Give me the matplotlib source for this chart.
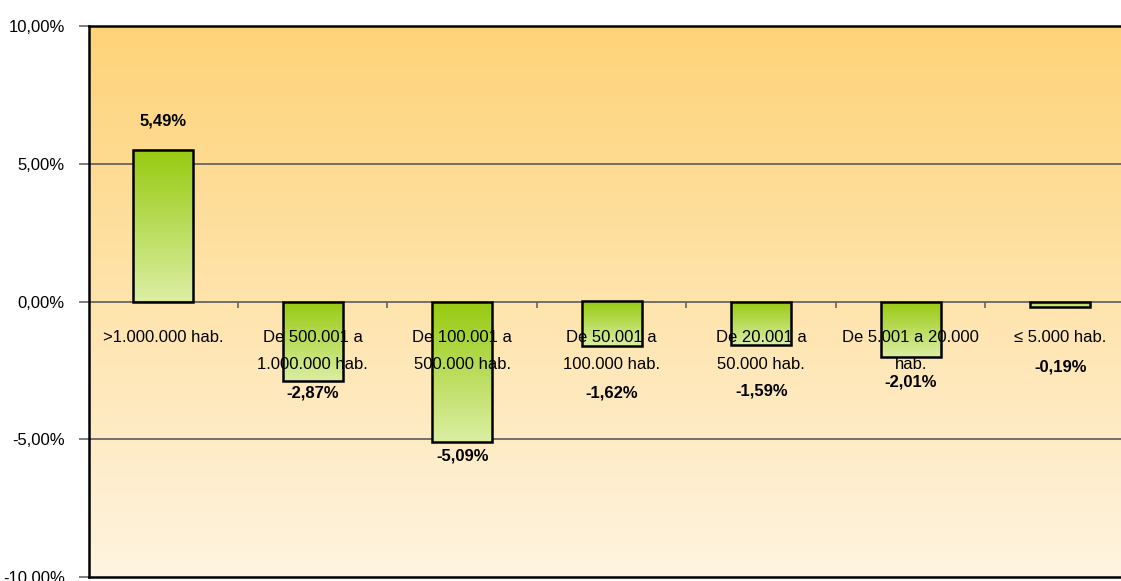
import numpy as np
from matplotlib import pyplot as plt
from matplotlib.colors import LinearSegmentedColormap
from matplotlib.patches import Rectangle

categories = [
    ">1.000.000 hab.",
    "De 500.001 a\n1.000.000 hab.",
    "De 100.001 a\n500.000 hab.",
    "De 50.001 a\n100.000 hab.",
    "De 20.001 a\n50.000 hab.",
    "De 5.001 a 20.000\nhab.",
    "\u2264 5.000 hab.",
]
values = [5.49, -2.87, -5.09, -1.62, -1.59, -2.01, -0.19]
# where Excel put each value label (in % units)
label_y = [6.55, -3.31, -5.60, -3.33, -3.24, -2.93, -2.38]
yticks = [-10, -5, 0, 5, 10]

plt.rcParams["font.family"] = ["Liberation Sans", "DejaVu Sans"]

fig = plt.figure(figsize=(11.21, 5.81), dpi=100)
ax = fig.add_axes([88.5 / 1121, 4 / 581, 1046.5 / 1121, 551 / 581])
ax.set_xlim(0, len(categories))
ax.set_ylim(-10, 10)

# background gradient
bg = LinearSegmentedColormap.from_list("bg", ["#FFF4E0", "#FED378"])
grad = np.linspace(0, 1, 256).reshape(-1, 1)
ax.imshow(grad, cmap=bg, origin="lower", aspect="auto",
          extent=(0, len(categories), -10, 10), zorder=0)

# gridlines
for y in [-5, 0, 5]:
    ax.axhline(y, color="#666666", lw=1.3, zorder=1)

# bars with vertical green gradient
green = LinearSegmentedColormap.from_list("gr", ["#DBEEA3", "#97CA10"])
width = 0.4
for i, v in enumerate(values):
    x0 = i + 0.5 - width / 2
    y0, y1 = min(0, v), max(0, v)
    ax.imshow(grad, cmap=green, origin="lower", aspect="auto",
              extent=(x0, x0 + width, y0, y1), zorder=2)
    ax.add_patch(Rectangle((x0, y0), width, y1 - y0, fill=False,
                           edgecolor="black", lw=1.8, zorder=3))

# category tick marks on the zero line
ax.vlines(range(1, len(categories)), -0.22, 0, color="#666666", lw=1.2, zorder=1)

for i, (cat, v, ly) in enumerate(zip(categories, values, label_y)):
    ax.text(i + 0.5, -1.05, cat, ha="center", va="top", fontsize=12,
            linespacing=2.0, zorder=4)
    ax.text(i + 0.5, ly, f"{v:.2f}%".replace(".", ","), ha="center",
            va="center", fontsize=12, fontweight="bold", zorder=4)

ax.set_xticks([])
ax.set_yticks(yticks)
ax.set_yticklabels([f"{t:.2f}%".replace(".", ",") for t in yticks], fontsize=12)
ax.tick_params(axis="y", length=7, width=1.2, color="#666666", pad=10)

for s in ["left", "top", "bottom"]:
    ax.spines[s].set_linewidth(1.8)
    ax.spines[s].set_color("black")
ax.spines["right"].set_visible(False)

fig.savefig("out.png", dpi=100)
